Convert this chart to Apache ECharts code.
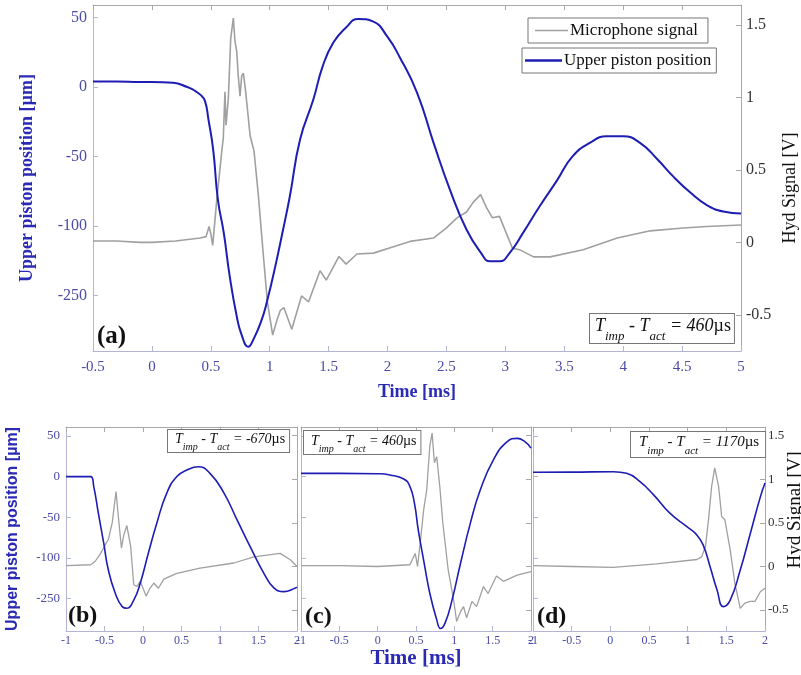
<!DOCTYPE html>
<html>
<head>
<meta charset="utf-8">
<title>Piston position and microphone signal</title>
<script src="https://cdn.jsdelivr.net/npm/echarts@6/dist/echarts.min.js"></script>
<style>
  html, body { margin: 0; padding: 0; background: #fff; }
  #chart { width: 801px; height: 675px; }
</style>
</head>
<body>
<div id="chart"></div>
<script>
// ---------- measured records (time in ms) ----------
// (a) T_imp - T_act = 460 us, long window
const aPistonT = [-0.5, -0.3, -0.1, 0.0, 0.18, 0.3, 0.35, 0.41, 0.45, 0.48, 0.52, 0.56, 0.61, 0.66, 0.72, 0.76, 0.818, 0.86, 0.93, 0.975, 1.05, 1.11, 1.17, 1.257, 1.37, 1.45, 1.54, 1.65, 1.75, 1.88, 2.0, 2.1, 2.25, 2.39, 2.53, 2.67, 2.79, 2.87, 2.95, 3.04, 3.15, 3.29, 3.44, 3.57, 3.72, 3.86, 4.0, 4.14, 4.29, 4.42, 4.57, 4.71, 4.85, 5.0];
const aPistonY = [4, 4, 3.5, 3.5, 3, 0, -2, -5.5, -10, -23.5, -45, -81, -105, -136, -165, -178, -187, -182, -168, -155, -128, -104, -79, -38, -9, 15, 32, 43, 49, 47, 36, 22, -4, -40, -74, -102.6, -119, -125.5, -125.5, -119, -105, -86, -67, -50, -40, -35.5, -35.5, -40, -52, -64, -76, -85, -89.6, -91];
const aMicT = [-0.5, -0.3, -0.1, 0.0, 0.2, 0.41, 0.46, 0.485, 0.5, 0.516, 0.55, 0.593, 0.606, 0.62, 0.629, 0.649, 0.669, 0.691, 0.705, 0.72, 0.733, 0.748, 0.762, 0.776, 0.796, 0.833, 0.867, 0.903, 0.946, 0.98, 1.025, 1.06, 1.09, 1.12, 1.187, 1.27, 1.33, 1.427, 1.48, 1.588, 1.648, 1.74, 1.88, 2.05, 2.19, 2.39, 2.5, 2.59, 2.67, 2.73, 2.79, 2.84, 2.89, 2.95, 3.0, 3.06, 3.12, 3.24, 3.38, 3.66, 3.95, 4.23, 4.51, 4.71, 5.0];
const aMicY = [0.01, 0.01, 0.0, 0.0, 0.01, 0.03, 0.04, 0.11, 0.06, -0.02, 0.29, 0.63, 0.72, 1.04, 0.81, 1.0, 1.41, 1.55, 1.39, 1.32, 1.15, 1.01, 1.15, 1.17, 1.04, 0.74, 0.63, 0.33, -0.09, -0.41, -0.64, -0.54, -0.47, -0.45, -0.6, -0.37, -0.41, -0.196, -0.26, -0.097, -0.15, -0.08, -0.074, -0.03, 0.007, 0.03, 0.1, 0.17, 0.21, 0.28, 0.33, 0.24, 0.17, 0.18, 0.08, -0.04, -0.05, -0.1, -0.1, -0.05, 0.03, 0.08, 0.1, 0.11, 0.12];

// (b) T_imp - T_act = -670 us
const bPistonT = [-1, -0.68, -0.64, -0.58, -0.51, -0.45, -0.36, -0.27, -0.21, -0.12, -0.035, 0.07, 0.18, 0.31, 0.44, 0.57, 0.72, 0.87, 1.05, 1.22, 1.39, 1.57, 1.7, 1.83, 1.98, 2.0];
const bPistonY = [0, 0, -12, -45, -82, -115, -143.6, -160, -162, -152, -131, -94, -57, -20, 0, 8, 12, 4, -20, -53, -86, -119, -137, -141.6, -137, -136];
const bMicT = [-1, -0.68, -0.62, -0.55, -0.49, -0.45, -0.4, -0.35, -0.32, -0.28, -0.25, -0.21, -0.16, -0.12, -0.08, -0.035, 0.04, 0.09, 0.14, 0.2, 0.27, 0.44, 0.74, 1.18, 1.44, 1.61, 1.78, 1.91, 2.0];
const bMicY = [0.01, 0.02, 0.06, 0.15, 0.25, 0.31, 0.5, 0.86, 0.57, 0.21, 0.36, 0.47, 0.23, -0.21, -0.23, -0.17, -0.34, -0.25, -0.19, -0.25, -0.145, -0.08, -0.02, 0.04, 0.11, 0.13, 0.15, 0.08, 0.0];

// (c) T_imp - T_act = 460 us
const cPistonT = [-1, -0.5, 0, 0.16, 0.34, 0.42, 0.48, 0.53, 0.6, 0.68, 0.77, 0.82, 0.88, 0.97, 1.08, 1.21, 1.34, 1.51, 1.69, 1.82, 1.92, 2.0];
const cPistonY = [4, 4, 3.5, 2, -3, -12, -33, -66, -103, -143.6, -176, -187, -180, -152, -107, -57, -16, 20.6, 43, 47, 43, 35];
const cMicT = [-1, -0.5, 0, 0.42, 0.49, 0.52, 0.56, 0.6, 0.64, 0.68, 0.71, 0.74, 0.77, 0.81, 0.85, 0.92, 0.99, 1.03, 1.08, 1.12, 1.16, 1.23, 1.29, 1.38, 1.44, 1.55, 1.64, 1.82, 2.0];
const cMicY = [0.01, 0.01, 0.0, 0.02, 0.15, 0.0, 0.31, 0.65, 0.88, 1.38, 1.53, 1.19, 1.26, 0.92, 0.5, -0.04, -0.38, -0.63, -0.52, -0.46, -0.59, -0.4, -0.46, -0.23, -0.31, -0.11, -0.17, -0.1, -0.06];

// (d) T_imp - T_act = 1170 us
const dPistonT = [-1, -0.5, 0.04, 0.21, 0.38, 0.56, 0.77, 0.99, 1.12, 1.2, 1.29, 1.38, 1.46, 1.55, 1.68, 1.81, 1.94, 2.0];
const dPistonY = [5.4, 5.5, 6, 4, -6, -22.5, -45, -61.6, -72, -84, -111, -139.5, -160, -152, -115, -70, -25, -8];
const dMicT = [-1, -0.5, 0.04, 0.6, 1.12, 1.18, 1.23, 1.27, 1.31, 1.35, 1.4, 1.44, 1.48, 1.55, 1.61, 1.68, 1.74, 1.81, 1.87, 1.94, 2.0];
const dMicY = [0.01, 0.0, -0.01, 0.03, 0.08, 0.11, 0.23, 0.54, 0.92, 1.13, 0.92, 0.57, 0.54, 0.19, -0.19, -0.48, -0.42, -0.4, -0.4, -0.29, -0.25];

// ---------- tick labels ----------
const posTicks = [-150, -100, -50, 0, 50];
const posTickLabels = ['-250', '-100', '-50', '0', '50'];
const hydTicks = [-0.5, 0, 0.5, 1, 1.5];
const hydTickLabels = ['-0.5', '0', '0.5', '1', '1.5'];

const panelLetters = ['(a)', '(b)', '(c)', '(d)'];
const delayTexts = ['460', '-670', '460', '1170'];
const seriesNames = ['Upper piston position', 'Microphone signal'];
const hydTitle = 'Hyd Signal [V]';

// ---------- styling ----------
const SERIF = 'Liberation Serif';
const BLUE = '#1d1db4';
const GREY = '#a0a0a0';
const TICK_BLUE = '#4b4ba6';
const FRAME_BLUE = '#b4b4d6';
const FRAME_GREY = '#a8a8a8';

const zip = (t, v) => t.map((x, i) => [x, v[i]]);

// grid boxes: the upper panel and three lower panels
const grids = [
  { left: 93, top: 5, width: 648, height: 346 },
  { left: 66, top: 427, width: 231, height: 204 },
  { left: 301, top: 427, width: 230, height: 204 },
  { left: 533, top: 427, width: 232, height: 204 }
];

const big = [true, false, false, false];
const xRanges = [[-0.5, 5], [-1, 2], [-1, 2], [-1, 2]];
const posRange = [[-190, 59], [-190, 61], [-190, 61], [-190, 61]];
const hydRange = [[-0.75, 1.64], [-0.74, 1.6], [-0.74, 1.6], [-0.74, 1.6]];
const showLeftLabels = [true, true, false, false];
const showRightLabels = [true, false, false, true];

const xAxes = [], yAxes = [], series = [];

grids.forEach((g, i) => {
  const fs = big[i] ? 15 : 12;
  // bottom time axis
  const bottom = {
    type: 'value', gridIndex: i, position: 'bottom',
    min: xRanges[i][0], max: xRanges[i][1], interval: 0.5,
    axisLine: { show: true, onZero: false, lineStyle: { color: FRAME_BLUE, width: 1 } },
    axisTick: { show: true, inside: true, length: 5, lineStyle: { color: FRAME_BLUE } },
    axisLabel: { show: true, interval: 0, margin: big[i] ? 9 : 4, color: TICK_BLUE,
                 fontFamily: SERIF, fontSize: fs, showMinLabel: true, showMaxLabel: true },
    splitLine: { show: false }
  };
  if (i === 0 || i === 2) {
    bottom.name = 'Time [ms]';
    bottom.nameLocation = 'middle';
    bottom.nameGap = i === 0 ? 32 : 10;
    bottom.nameTextStyle = { fontFamily: SERIF, fontWeight: 'bold', fontSize: i === 0 ? 18 : 21, color: '#2a2ab4' };
  }
  xAxes.push(bottom);
  // top frame edge with ticks
  xAxes.push({
    type: 'value', gridIndex: i, position: 'top',
    min: xRanges[i][0], max: xRanges[i][1], interval: 0.5,
    axisLine: { show: true, onZero: false, lineStyle: { color: FRAME_GREY, width: 1 } },
    axisTick: { show: true, inside: true, length: 5, lineStyle: { color: FRAME_GREY } },
    axisLabel: { show: false }, splitLine: { show: false }
  });

  // left axis: piston position
  const left = {
    type: 'value', gridIndex: i, position: 'left',
    min: posRange[i][0], max: posRange[i][1],
    axisLine: { show: true, onZero: false, lineStyle: { color: FRAME_BLUE, width: 1 } },
    axisTick: { show: true, inside: true, length: 5, customValues: posTicks, lineStyle: { color: FRAME_BLUE } },
    axisLabel: { show: showLeftLabels[i], customValues: posTicks, margin: 6, color: TICK_BLUE,
                 fontFamily: SERIF, fontSize: big[i] ? 16 : 13,
                 formatter: v => posTickLabels[posTicks.indexOf(v)] },
    splitLine: { show: false }
  };
  if (i === 0 || i === 1) {
    left.name = 'Upper piston position [\u00b5m]';
    left.nameLocation = 'middle';
    left.nameGap = i === 0 ? 57 : 45;
    left.nameTextStyle = i === 0
      ? { fontFamily: SERIF, fontWeight: 'bold', fontSize: 18, color: '#2a2ab4' }
      : { fontFamily: 'Liberation Sans', fontWeight: 'bold', fontSize: 16, color: '#2a2ab4' };
  }
  yAxes.push(left);

  // right axis: hydrophone / microphone voltage
  yAxes.push({
    type: 'value', gridIndex: i, position: 'right',
    min: hydRange[i][0], max: hydRange[i][1],
    axisLine: { show: true, onZero: false, lineStyle: { color: FRAME_GREY, width: 1 } },
    axisTick: { show: true, inside: true, length: 5, customValues: hydTicks, lineStyle: { color: FRAME_GREY } },
    axisLabel: { show: showRightLabels[i], customValues: hydTicks, margin: big[i] ? 5 : 3, color: '#333',
                 fontFamily: SERIF, fontSize: big[i] ? 16 : 13,
                 formatter: v => hydTickLabels[hydTicks.indexOf(v)] },
    splitLine: { show: false }
  });
});

const records = [
  [aPistonT, aPistonY, aMicT, aMicY],
  [bPistonT, bPistonY, bMicT, bMicY],
  [cPistonT, cPistonY, cMicT, cMicY],
  [dPistonT, dPistonY, dMicT, dMicY]
];

records.forEach((r, i) => {
  series.push({
    name: seriesNames[1], type: 'line', xAxisIndex: 2 * i, yAxisIndex: 2 * i + 1,
    data: zip(r[2], r[3]), showSymbol: false, symbol: 'none', color: GREY,
    lineStyle: { color: GREY, width: big[i] ? 1.6 : 1.3 }, silent: true, z: 2
  });
  series.push({
    name: seriesNames[0], type: 'line', xAxisIndex: 2 * i, yAxisIndex: 2 * i, smooth: 0.5,
    data: zip(r[0], r[1]), showSymbol: false, symbol: 'none', color: BLUE,
    lineStyle: { color: BLUE, width: big[i] ? 2 : 1.6 }, silent: true, z: 3
  });
});

// delay annotation with subscripts, as rich text
function delayLabel(val, size) {
  const s = size;
  const lh = Math.round(s * 1.45);
  return {
    text: '{T|T}{s|imp}{n| - }{T|T}{s|act}{n| = ' + val + '}{u|\u00b5s}',
    rich: {
      T: { fontFamily: SERIF, fontStyle: 'italic', fontSize: s, lineHeight: lh, verticalAlign: 'top', fill: '#111' },
      n: { fontFamily: SERIF, fontStyle: 'italic', fontSize: s, lineHeight: lh, verticalAlign: 'top', fill: '#111' },
      u: { fontFamily: SERIF, fontSize: s, lineHeight: lh, verticalAlign: 'top', fill: '#111' },
      s: { fontFamily: SERIF, fontStyle: 'italic', fontSize: Math.round(s * 0.72), verticalAlign: 'bottom', fill: '#111' }
    }
  };
}

const boxPos = [
  { x: 589, y: 313, size: 18, pad: [3, 3, 0, 5] },
  { x: 167, y: 429, size: 14, pad: [2, 4, 0, 7] },
  { x: 303, y: 430, size: 14, pad: [3, 4, 0, 7] },
  { x: 630, y: 431, size: 15, pad: [3, 6, 0, 8] }
];
const letterPos = [
  { x: 97, y: 324, size: 25 },
  { x: 68, y: 604, size: 24 },
  { x: 305, y: 605, size: 24 },
  { x: 537, y: 605, size: 24 }
];
// rotated right-hand titles (centre point, size)
const hydTitlePos = [
  { x: 790, y: 188, size: 18 },
  { x: 795, y: 510, size: 19 }
];

const graphic = [];
boxPos.forEach((b, i) => {
  const lbl = delayLabel(delayTexts[i], b.size);
  graphic.push({
    type: 'text', left: b.x, top: b.y, z: 10,
    style: Object.assign(lbl, {
      backgroundColor: '#fff', borderColor: '#777', borderWidth: 1, padding: b.pad
    })
  });
});
letterPos.forEach((p, i) => {
  graphic.push({
    type: 'text', left: p.x, top: p.y, z: 10,
    style: { text: panelLetters[i], fontFamily: SERIF, fontWeight: 'bold', fontSize: p.size, fill: '#111' }
  });
});
hydTitlePos.forEach(p => {
  graphic.push({
    type: 'text', x: p.x, y: p.y, rotation: Math.PI / 2, z: 10,
    style: { text: hydTitle, x: 0, y: 0, align: 'center', verticalAlign: 'middle',
             fontFamily: SERIF, fontSize: p.size, fill: '#111' }
  });
});

const legendCommon = {
  orient: 'vertical', icon: 'rect', borderWidth: 1, borderColor: '#777',
  backgroundColor: '#fff', itemGap: 0, selectedMode: false,
  textStyle: { fontFamily: SERIF, fontSize: 17, color: '#111', padding: [0, 0, 0, -3] }
};

const option = {
  animation: false,
  backgroundColor: '#fff',
  grid: grids.map(g => Object.assign({ containLabel: false, outerBoundsMode: 'none' }, g)),
  xAxis: xAxes,
  yAxis: yAxes,
  legend: [
    Object.assign({}, legendCommon, {
      left: 528, top: 18, padding: [4, 10, 4, 7],
      data: [seriesNames[1]], itemWidth: 33, itemHeight: 1.5
    }),
    Object.assign({}, legendCommon, {
      left: 522, top: 48, padding: [4, 5, 4, 3],
      data: [seriesNames[0]], itemWidth: 37, itemHeight: 2.5
    })
  ],
  series: series,
  graphic: graphic
};

const chart = echarts.init(document.getElementById('chart'), null, { renderer: 'canvas' });
chart.setOption(option);
</script>
</body>
</html>
